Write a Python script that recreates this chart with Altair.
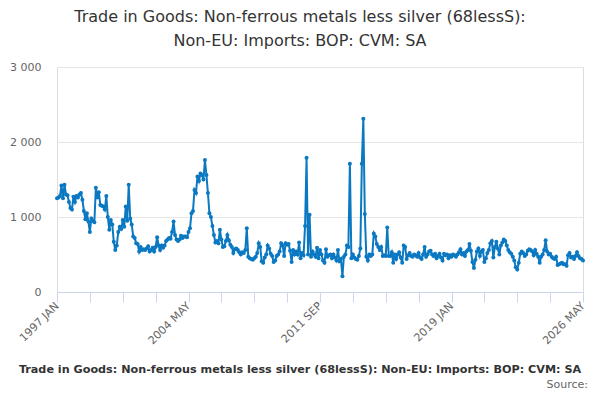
import altair as alt
import pandas as pd

start_year = 1997
month_names = ["JAN", "FEB", "MAR", "APR", "MAY", "JUN", "JUL", "AUG", "SEP", "OCT", "NOV", "DEC"]

v1997 = [1250, 1260, 1280, 1420, 1250, 1430, 1300, 1290, 1200, 1120, 1100, 1270]
v1998 = [1200, 1280, 1260, 1300, 1320, 1230, 1080, 970, 1050, 940, 800, 980]
v1999 = [950, 930, 1390, 1260, 1330, 1160, 1150, 1140, 1100, 1280, 1000, 830]
v2000 = [960, 900, 670, 560, 620, 800, 870, 840, 960, 870, 1140, 950]
v2001 = [1430, 980, 900, 740, 720, 650, 640, 540, 600, 560, 570, 560]
v2002 = [580, 610, 540, 560, 590, 540, 600, 730, 620, 560, 620, 590]
v2003 = [620, 680, 700, 720, 710, 800, 940, 760, 700, 680, 700, 750]
v2004 = [720, 740, 740, 730, 800, 850, 1050, 1080, 1360, 1320, 1540, 1480]
v2005 = [1580, 1560, 1500, 1760, 1560, 1320, 1050, 1000, 880, 760, 660, 680]
v2006 = [650, 830, 700, 600, 610, 680, 760, 690, 630, 600, 520, 570]
v2007 = [580, 560, 530, 500, 530, 520, 560, 850, 470, 450, 440, 430]
v2008 = [450, 470, 520, 650, 600, 410, 390, 460, 500, 620, 580, 510]
v2009 = [480, 400, 420, 480, 500, 540, 650, 620, 480, 650, 630, 640]
v2010 = [550, 400, 560, 500, 540, 500, 660, 450, 520, 490, 880, 1790]
v2011 = [500, 1030, 470, 540, 500, 470, 590, 450, 560, 500, 420, 390]
v2012 = [570, 470, 490, 500, 450, 500, 460, 420, 560, 410, 440, 210]
v2013 = [470, 500, 620, 600, 1710, 450, 500, 460, 440, 430, 480, 580]
v2014 = [1710, 2310, 1040, 470, 420, 500, 480, 500, 780, 740, 640, 600]
v2015 = [560, 600, 480, 490, 480, 860, 480, 480, 530, 390, 500, 440]
v2016 = [500, 530, 460, 390, 620, 600, 440, 490, 520, 480, 470, 500]
v2017 = [490, 470, 520, 460, 440, 500, 600, 470, 500, 540, 550, 500]
v2018 = [480, 510, 450, 480, 510, 460, 420, 510, 490, 500, 450, 490]
v2019 = [470, 500, 490, 470, 500, 530, 570, 500, 520, 480, 540, 560]
v2020 = [640, 550, 400, 320, 430, 540, 580, 480, 540, 560, 400, 450]
v2021 = [520, 560, 650, 680, 460, 600, 670, 580, 500, 620, 660, 700]
v2022 = [680, 620, 560, 530, 510, 470, 420, 330, 300, 390, 510, 540]
v2023 = [520, 480, 500, 550, 570, 560, 540, 490, 560, 510, 470, 390]
v2024 = [470, 500, 560, 690, 540, 500, 510, 470, 450, 440, 470, 360]
v2025 = [370, 380, 390, 370, 370, 350, 490, 520, 460, 470, 440, 480]
v2026 = [530, 480, 450, 440, 420]

years = [v1997, v1998, v1999, v2000, v2001, v2002, v2003, v2004, v2005, v2006,
         v2007, v2008, v2009, v2010, v2011, v2012, v2013, v2014, v2015, v2016,
         v2017, v2018, v2019, v2020, v2021, v2022, v2023, v2024, v2025, v2026]

rows = []
for yi, vals in enumerate(years):
    for mi, v in enumerate(vals):
        idx = yi * 12 + mi
        rows.append({"idx": idx, "value": v,
                     "period": f"{start_year + yi} {month_names[mi]}"})
df = pd.DataFrame(rows)

title_lines = ["Trade in Goods: Non-ferrous metals less silver (68lessS):",
               "Non-EU: Imports: BOP: CVM: SA"]
bottom_text = "Trade in Goods: Non-ferrous metals less silver (68lessS): Non-EU: Imports: BOP: CVM: SA"
source_text = "Source:"

FONT = "DejaVu Sans"
LINE = "#0b78c2"
W, H = 526, 225

month_js = "[" + ",".join(f"'{m}'" for m in month_names) + "]"
x_label_expr = (f"datum.value % 88 == 0 ? ({start_year} + floor(datum.value / 12)) + ' ' + "
                f"{month_js}[datum.value % 12] : ''")

x = alt.X("idx:Q",
          scale=alt.Scale(domain=[0, 352], nice=False, zero=False),
          axis=alt.Axis(values=list(range(0, 353, 22)), labelExpr=x_label_expr,
                        labelAngle=-45, labelAlign="right", labelBaseline="middle",
                        labelPadding=2, tickSize=10, tickColor="#ccd6eb",
                        domainColor="#ccd6eb", grid=False, title=None,
                        labelColor="#666666", labelFont=FONT, labelFontSize=11,
                        labelOverlap=False, labelFlush=False))
y = alt.Y("value:Q",
          scale=alt.Scale(domain=[0, 3000], nice=False),
          axis=alt.Axis(values=[0, 1000, 2000, 3000],
                        labelExpr="replace(format(datum.value, ','), ',', ' ')",
                        domain=False, ticks=False, gridColor="#e6e6e6",
                        labelColor="#666666", labelFont=FONT, labelFontSize=11,
                        labelPadding=16, title=None))

line = alt.Chart(df).mark_line(color=LINE, strokeWidth=2).encode(x=x, y=y)
pts = alt.Chart(df).mark_circle(color=LINE, size=16, opacity=1).encode(x=x, y=y)

def txt(s, xp, yp, size, weight="normal", color="#333333", align="center"):
    return alt.Chart(pd.DataFrame({"t": [s]})).mark_text(
        font=FONT, fontSize=size, fontWeight=weight, color=color,
        align=align, baseline="middle").encode(
        text="t:N", x=alt.value(xp), y=alt.value(yp))

t1 = txt(title_lines[0], 243, -50, 16)
t2 = txt(title_lines[1], 243, -26, 16)
t3 = txt(bottom_text, 243, 303, 11.2, weight="bold")
t4 = txt(source_text, 531, 318, 11, color="#666666", align="right")

chart = alt.layer(line, pts, t1, t2, t3, t4).properties(
    width=W, height=H,
    autosize=alt.AutoSizeParams(type="none"),
    padding={"left": 49, "top": 59, "right": 9, "bottom": 100},
).configure_view(stroke=None).configure(background="white")

chart.save("out.html", embed_options={"renderer": "svg", "actions": False})
